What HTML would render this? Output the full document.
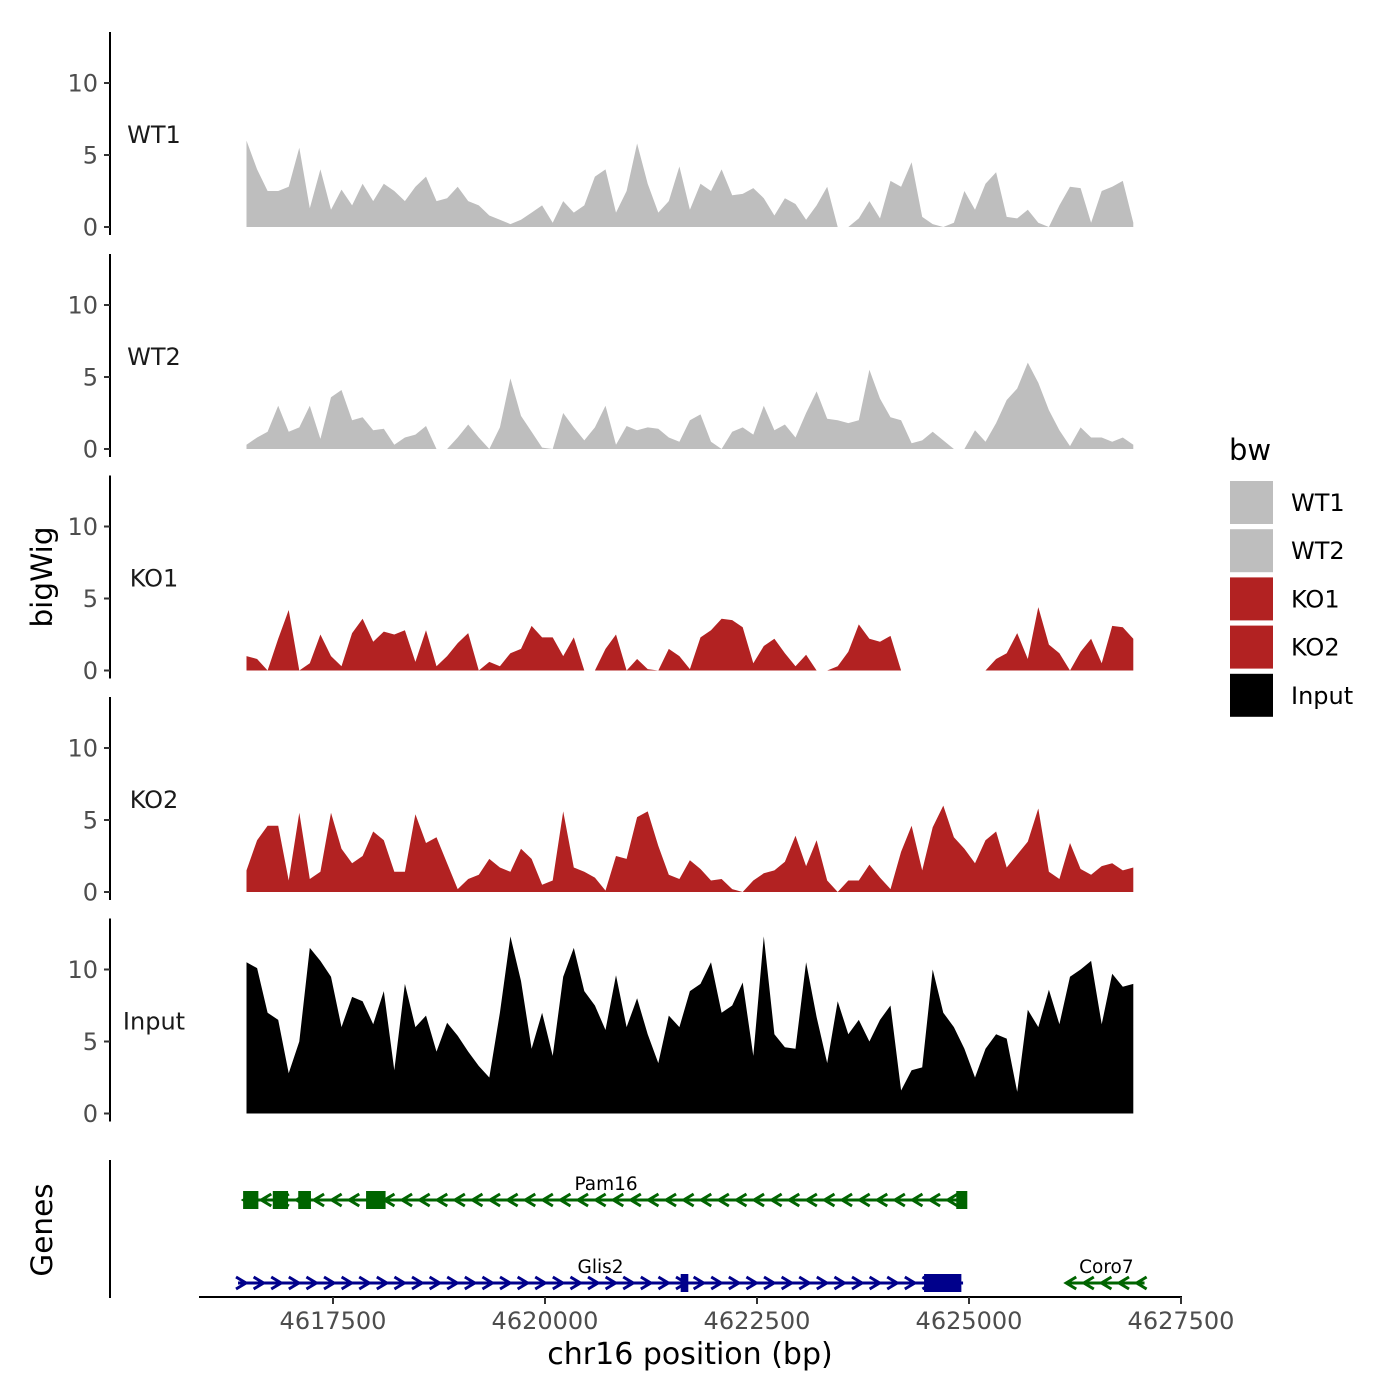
<!DOCTYPE html>
<html><head><meta charset="utf-8"><style>
html,body{margin:0;padding:0;background:#fff}
svg{display:block}
text{font-family:"DejaVu Sans","Liberation Sans",sans-serif}
</style></head><body>
<svg id="chart" width="1400" height="1400" viewBox="0 0 1400 1400" xmlns="http://www.w3.org/2000/svg">
<rect width="1400" height="1400" fill="#fff"/>
<g id="tracks"></g>
<g id="axes"></g>
<g id="genes"></g>
<text x="52" y="577" font-size="29.5" text-anchor="middle" transform="rotate(-90 52 577)">bigWig</text>
<text x="52" y="1230" font-size="29.5" text-anchor="middle" transform="rotate(-90 52 1230)">Genes</text>
<text x="690" y="1364" font-size="30" text-anchor="middle">chr16 position (bp)</text>
<g>
<text x="1229" y="460" font-size="29">bw</text>
<g id="legend"></g>
</g>
</svg>
<script>
// ---- data ----
const posStart = 4616480;
const posStep = 124.5;
const trackNames = ["WT1","WT2","KO1","KO2","Input"];
const trackColors = ["#bebebe","#bebebe","#b22222","#b22222","#000000"];
const yTicks = [0,5,10];
const xTicks = [4617500,4620000,4622500,4625000,4627500];
const N = null;
const wt1 = [6,4,2.5,2.5,2.8,5.5,1.3,4,1.2,2.6,1.5,3,1.8,3,2.5,1.8,2.8,3.5,1.8,2,2.8,1.8,1.5,0.8,0.5,0.2,0.5,1,1.5,0.3,1.8,1,1.5,3.5,4,1,2.5,5.8,3,1,1.8,4.2,1.2,3,2.5,4,2.2,2.3,2.7,2,0.8,2,1.6,0.5,1.5,2.8,0,N,0.6,1.8,0.6,3.2,2.8,4.5,0.7,0.2,N,0.3,2.5,1.2,3,3.8,0.7,0.6,1.2,0.3,N,1.5,2.8,2.7,0.3,2.5,2.8,3.2,0.3];
const wt2 = [0.3,0.8,1.2,3,1.2,1.5,3,0.7,3.6,4.1,2,2.2,1.3,1.4,0.3,0.8,1,1.6,0,N,0.8,1.7,0.8,0,1.5,4.9,2.3,1.2,0.1,N,2.5,1.5,0.6,1.5,3,0.3,1.6,1.3,1.5,1.4,0.8,0.5,2,2.4,0.5,N,1.2,1.5,1,3,1.3,1.7,0.8,2.5,4,2.1,2,1.8,2,5.5,3.5,2.2,2,0.4,0.6,1.2,0.6,N,N,1.3,0.5,1.8,3.4,4.2,6,4.6,2.7,1.3,0.2,1.5,0.8,0.8,0.5,0.8,0.3];
const ko1 = [1,0.8,N,2.2,4.2,N,0.5,2.5,1,0.3,2.6,3.6,2,2.7,2.5,2.8,0.6,2.8,0.3,1,1.9,2.6,N,0.6,0.3,1.2,1.5,3.1,2.3,2.3,1,2.3,N,N,1.5,2.5,N,0.8,0.1,N,1.5,1,0.1,2.3,2.8,3.6,3.5,3,0.5,1.7,2.2,1.2,0.3,1.1,N,N,0.3,1.3,3.2,2.2,2,2.4,0,N,N,N,N,N,N,N,N,0.8,1.2,2.6,0.8,4.4,1.8,1.2,N,1.3,2.2,0.5,3.1,3,2.2];
const ko2 = [1.5,3.6,4.6,4.6,0.8,5.5,0.9,1.4,5.5,3,2,2.5,4.2,3.6,1.4,1.4,5.4,3.4,3.8,2,0.2,0.9,1.2,2.3,1.7,1.4,3,2.3,0.5,0.8,5.6,1.7,1.4,1,0.1,2.5,2.3,5.2,5.6,3.2,1.2,0.9,2.2,1.6,0.8,0.9,0.2,N,0.8,1.3,1.5,2.1,3.9,1.8,3.6,0.8,N,0.8,0.8,1.9,1,0.2,2.8,4.6,1.5,4.5,6,3.8,3,2,3.6,4.2,1.7,2.6,3.5,5.8,1.4,0.9,3.4,1.6,1.2,1.8,2,1.5,1.7];
const input = [10.5,10.1,7,6.5,2.8,5,11.5,10.6,9.5,6,8.1,7.8,6.2,8.5,3,9,6,6.8,4.3,6.3,5.4,4.3,3.3,2.5,7,12.3,9.2,4.5,7,4,9.5,11.5,8.5,7.5,5.8,9.6,6,8,5.5,3.5,6.8,6,8.5,9,10.5,7,7.5,9.1,4,12.3,5.5,4.6,4.5,10.5,6.7,3.5,7.8,5.5,6.5,5,6.5,7.5,1.6,3,3.2,10,7,6,4.5,2.5,4.5,5.5,5.2,1.5,7.2,6,8.6,6.2,9.5,10,10.6,6.2,9.7,8.8,9];
const trackValues = [wt1,wt2,ko1,ko2,input];
// gene models
const geneNames = ["Pam16","Glis2","Coro7"];
const geneStart = [4616470,4616380,4626170];
const geneEnd = [4624970,4624930,4627070];
const geneStrand = [-1,1,-1];
const geneRow = [0,1,1];
const geneColor = ["#006400","#00008b","#006400"];
const pam16Exons = [[4616440,4616620],[4616790,4616970],[4617090,4617240],[4617890,4618120],[4624850,4624980]];
const glis2Exons = [[4621600,4621690],[4624470,4624910]];
const coro7Exons = [];
const geneExons = [pam16Exons,glis2Exons,coro7Exons];

// ---- scales ----
const NS="http://www.w3.org/2000/svg";
const panelZero=[227,449,670.5,892,1113.5];
const unitPx=14.4;
const xS = bp => 333 + (bp-4617500)*0.0848;
const yS = (p,v) => panelZero[p] - (v===null?0:v)*unitPx;
function mk(tag,attrs,parent){const e=document.createElementNS(NS,tag);for(const k in attrs)e.setAttribute(k,attrs[k]);parent.appendChild(e);return e;}

const tracks=document.getElementById('tracks');
const axes=document.getElementById('axes');
trackValues.forEach((vals,p)=>{
  const g=mk('g',{},tracks);
  
  
  let d='M'+xS(posStart).toFixed(1)+','+panelZero[p];
  vals.forEach((v,i)=>{
    d+='L'+xS(posStart+i*posStep).toFixed(1)+','+yS(p,v).toFixed(1);
  });
  d+='L'+xS(posStart+(vals.length-1)*posStep).toFixed(1)+','+panelZero[p]+'Z';
  const a=mk('path',{d:d,fill:trackColors[p]},g);
  
  
  const ax=mk('g',{},axes);
  
  
  mk('line',{x1:110,x2:110,y1:panelZero[p]+8,y2:panelZero[p]-195,stroke:'#000','stroke-width':2},ax);
  yTicks.forEach(t=>{
    const y=yS(p,t);
    mk('line',{x1:104,x2:110,y1:y,y2:y,stroke:'#333','stroke-width':2},ax);
    const tx=mk('text',{x:98,y:y+8.5,'font-size':24,'text-anchor':'end',fill:'#4d4d4d'},ax);
    tx.textContent=t;
    
    
  });
  const lb=mk('text',{x:154,y:panelZero[p]-84,'font-size':24,'text-anchor':'middle',fill:'#1a1a1a'},ax);
  lb.textContent=trackNames[p];
  
  
});

const genes=document.getElementById('genes');
mk('line',{x1:110,x2:110,y1:1160,y2:1298,stroke:'#000','stroke-width':2},axes);
mk('line',{x1:199,x2:1182,y1:1297,y2:1297,stroke:'#000','stroke-width':2},axes);
xTicks.forEach(t=>{
  const x=xS(t);
  mk('line',{x1:x,x2:x,y1:1297,y2:1304,stroke:'#333','stroke-width':2},axes);
  const tx=mk('text',{x:x,y:1329,'font-size':24,'text-anchor':'middle',fill:'#4d4d4d'},axes);
  tx.textContent=t;
  
  
});
const rowY=[1200,1283];
geneNames.forEach((name,gi)=>{
  const g=mk('g',{},genes);
  
  
  const y=rowY[geneRow[gi]], c=geneColor[gi];
  const x1=xS(geneStart[gi]), x2=xS(geneEnd[gi]);
  mk('line',{x1:x1,x2:x2,y1:y,y2:y,stroke:c,'stroke-width':3},g);
  for(let x=x1+3;x<x2-2;x+=17.6){
    const s=geneStrand[gi]*5;
    mk('polyline',{points:(x-s)+','+(y-6)+' '+(x+s)+','+y+' '+(x-s)+','+(y+6),fill:'none',stroke:c,'stroke-width':3},g);
  }
  geneExons[gi].forEach(e=>{
    const ex=mk('rect',{x:xS(e[0]),y:y-9,width:xS(e[1])-xS(e[0]),height:18,fill:c},g);
    
    
  });
  const lb=mk('text',{x:(x1+x2)/2,y:y-10,'font-size':18.5,'text-anchor':'middle',fill:'#000'},g);
  lb.textContent=name;
  
  
});

const lg=document.getElementById('legend');
trackNames.forEach((n,i)=>{
  const y=480+i*48.2;
  const k=mk('rect',{x:1229,y:y,width:45,height:45,fill:trackColors[i],stroke:'#fff','stroke-width':2},lg);
  
  
  const t=mk('text',{x:1291,y:y+31,'font-size':24,fill:'#000'},lg);
  t.textContent=n;
  
  
});
</script>
</body></html>
